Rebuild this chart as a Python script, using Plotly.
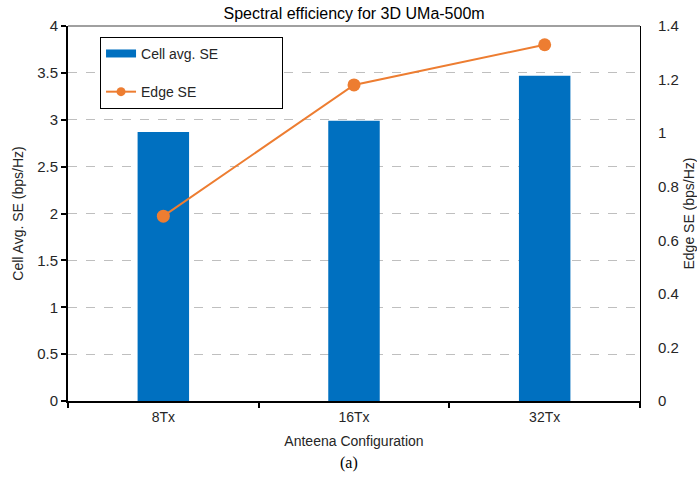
import plotly.graph_objects as go

categories = ["8Tx", "16Tx", "32Tx"]
cell_avg_se = [2.87, 2.99, 3.47]
edge_se = [0.69, 1.18, 1.33]

BLUE = "#0070C0"
ORANGE = "#ED7D31"
FONT = "Liberation Sans, Arial, sans-serif"
PAD = "\u00a0" * 15

fig = go.Figure()

# bars on the left axis
fig.add_trace(go.Bar(
    x=categories, y=cell_avg_se, name="Cell avg. SE",
    marker=dict(color=BLUE, line=dict(width=0)),
    width=0.27, showlegend=False, yaxis="y",
))
# edge SE line on the right axis
fig.add_trace(go.Scatter(
    x=categories, y=edge_se, name="Edge SE", mode="lines+markers",
    line=dict(color=ORANGE, width=2),
    marker=dict(color=ORANGE, size=13),
    yaxis="y2", showlegend=False,
))
# legend entries: flat bar swatch and a smaller marker on a line
fig.add_trace(go.Scatter(
    x=[None], y=[None], mode="lines", name="Cell avg. SE" + PAD,
    line=dict(color=BLUE, width=8), legendgroup="a",
))
fig.add_trace(go.Scatter(
    x=[None], y=[None], mode="lines+markers", name="Edge SE",
    line=dict(color=ORANGE, width=2), marker=dict(color=ORANGE, size=9),
    yaxis="y2", legendgroup="b",
))

fig.update_layout(
    width=697, height=483,
    margin=dict(l=68, r=57, t=26, b=82, autoexpand=False),
    paper_bgcolor="white", plot_bgcolor="white",
    font=dict(family=FONT, size=14, color="#262626"),
    title=dict(text="Spectral efficiency for 3D UMa-500m", x=0.508, xanchor="center",
               y=1 - 13 / 483, yanchor="middle", font=dict(size=16, color="black")),
    showlegend=True,
    legend=dict(
        x=0.056, y=0.971, xanchor="left", yanchor="top",
        bordercolor="black", borderwidth=1, bgcolor="white",
        font=dict(size=14, color="#262626"),
        traceorder="grouped", tracegroupgap=17,
        itemwidth=30,
    ),
    xaxis=dict(
        type="category", showgrid=False, showline=True, linecolor="black", linewidth=2,
        ticks="outside", tickson="boundaries", ticklen=5, tickcolor="black", tickwidth=2,
        title=dict(text="Anteena Configuration", standoff=12, font=dict(size=14)),
        tickfont=dict(size=14), automargin=False, ticklabelstandoff=2,
    ),
    yaxis=dict(
        range=[0, 4], dtick=0.5, showgrid=True, gridcolor="#BFBFBF", griddash="dash",
        gridwidth=1, showline=True, linecolor="black", linewidth=2,
        ticks="outside", ticklen=5, tickcolor="black", tickwidth=2,
        title=dict(text="Cell Avg. SE (bps/Hz)", standoff=10, font=dict(size=14)),
        zeroline=False, tickfont=dict(size=15), automargin=False,
    ),
    yaxis2=dict(
        range=[0, 1.4], dtick=0.2, overlaying="y", side="right", showgrid=False,
        showline=True, linecolor="black", linewidth=1, ticks="",
        ticklabelstandoff=14, zeroline=False,
        title=dict(text="Edge SE (bps/Hz)", standoff=10, font=dict(size=14)),
        tickfont=dict(size=15), automargin=False,
    ),
    shapes=[dict(type="line", xref="paper", yref="paper", x0=0, x1=1, y0=1, y1=1,
                 line=dict(color="#808080", width=1.5))],
    annotations=[dict(text="(a)", xref="paper", yref="paper", x=0.492, y=-0.165,
                      xanchor="center", yanchor="middle", showarrow=False,
                      font=dict(family="Liberation Serif, Times New Roman, serif",
                                size=16, color="black"))],
)

fig.write_html("out.html")
